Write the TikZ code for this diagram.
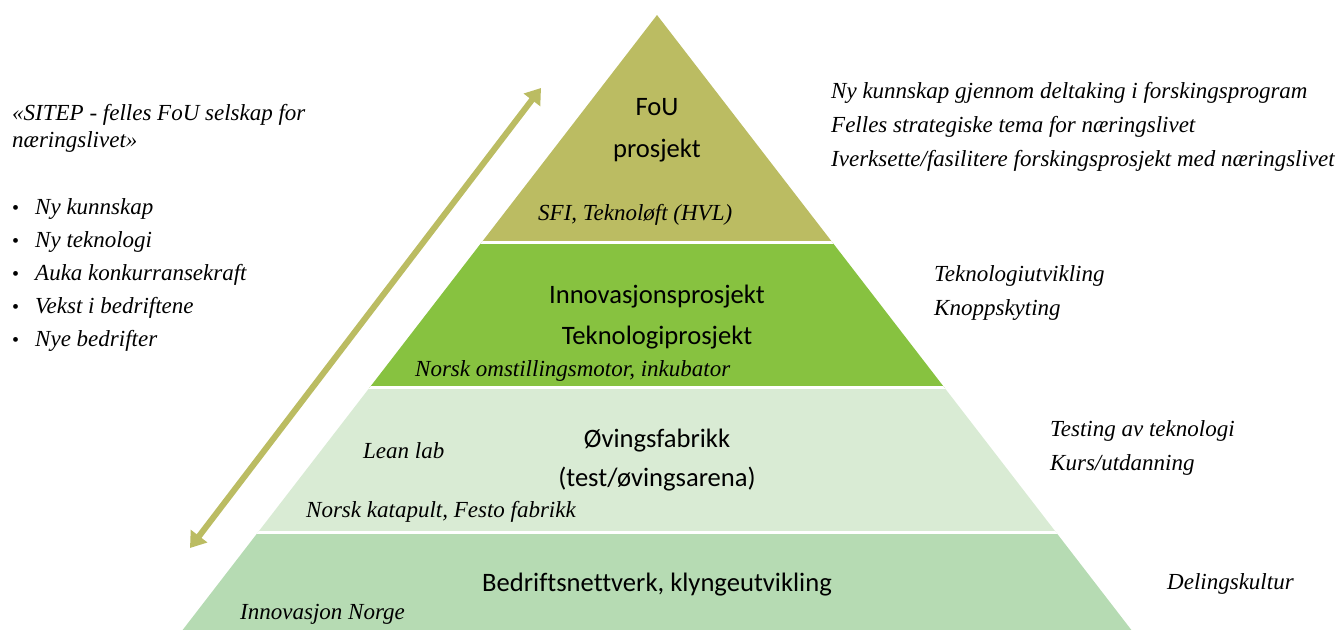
\documentclass[tikz,border=0pt]{standalone}
\usepackage{fontspec}
\setmainfont{Liberation Serif}
\newfontfamily\levelfont[Ligatures=NoCommon]{Carlito}
\usetikzlibrary{arrows.meta}
\definecolor{fouolive}{RGB}{187,188,98}
\definecolor{innogreen}{RGB}{135,194,64}
\definecolor{ovinglight}{RGB}{217,235,212}
\definecolor{bedriftgreen}{RGB}{182,219,179}
\begin{document}
\begin{tikzpicture}[x=1pt,y=-1pt,
    note/.style={font=\itshape\fontsize{23}{27}\selectfont, inner sep=0pt, anchor=base west},
    level/.style={font=\levelfont\fontsize{26.6}{32}\selectfont, inner sep=0pt, anchor=base}]
    \useasboundingbox (0,0) rectangle (1343,630);

    % the pyramid, cut into four bands
    \begin{scope}
        \clip (657,15) -- (182.6,630) -- (1131.4,630) -- cycle;
        \fill[fouolive] (0,0) rectangle (1343,242.5);
        \fill[innogreen] (0,242.5) rectangle (1343,387.5);
        \fill[ovinglight] (0,387.5) rectangle (1343,532.5);
        \fill[bedriftgreen] (0,532.5) rectangle (1343,630);
    \foreach \y in {242.5,387.5,532.5}
        \draw[white, line width=2.5pt] (150,\y) -- (1200,\y);
    \end{scope}

    % double arrow along the left side
    \coordinate (low) at (190,548);
    \coordinate (high) at (541,88);
    \draw[fouolive, line width=6pt, {Triangle[length=15pt,width=20pt]}-{Triangle[length=15pt,width=20pt]}] (low) -- (high);

    % band titles
    \node[level] (fou) at (657,115) {FoU};
    \node[level] (fouB) at (657,157) {prosjekt};
    \node[level] (inno) at (657,303) {Innovasjonsprosjekt};
    \node[level] (innoB) at (657,344) {Teknologiprosjekt};
    \node[level] (oving) at (657,447) {Øvingsfabrikk};
    \node[level] (ovingB) at (657,486) {(test/øvingsarena)};
    \node[level] (bedrift) at (657,591) {Bedriftsnettverk, klyngeutvikling};

    % examples inside the bands
    \node[note] (sfi) at (538,220) {SFI, Teknoløft (HVL)};
    \node[note] (motor) at (415,376) {Norsk omstillingsmotor, inkubator};
    \node[note] (lean) at (363,458) {Lean lab};
    \node[note] (katapult) at (306,517) {Norsk katapult, Festo fabrikk};
    \node[note] (norge) at (240,619) {Innovasjon Norge};

    % right hand notes
    \node[note] (r1) at (831,98) {Ny kunnskap gjennom deltaking i forskingsprogram};
    \node[note] (r2) at (831,132) {Felles strategiske tema for næringslivet};
    \node[note] (r3) at (831,166) {Iverksette/fasilitere forskingsprosjekt med næringslivet};
    \node[note] (r4) at (934,281) {Teknologiutvikling};
    \node[note] (r5) at (934,315) {Knoppskyting};
    \node[note] (r6) at (1050,436) {Testing av teknologi};
    \node[note] (r7) at (1050,470) {Kurs/utdanning};
    \node[note] (r8) at (1167,589) {Delingskultur};

    % left hand notes
    \node[note] (sitep) at (12,120) {«SITEP - felles FoU selskap for};
    \node[note] (sitepB) at (12,147) {næringslivet»};
\foreach \t [count=\i] in {Ny kunnskap,Ny teknologi,Auka konkurransekraft,Vekst i bedriftene,Nye bedrifter}{
    \node[note, font=\fontsize{20}{24}\selectfont] (dot\i) at (12,{181+33*\i}) {\textbullet};
    \node[note] (aim\i) at (35,{181+33*\i}) {\t};
}
\end{tikzpicture}
\end{document}
